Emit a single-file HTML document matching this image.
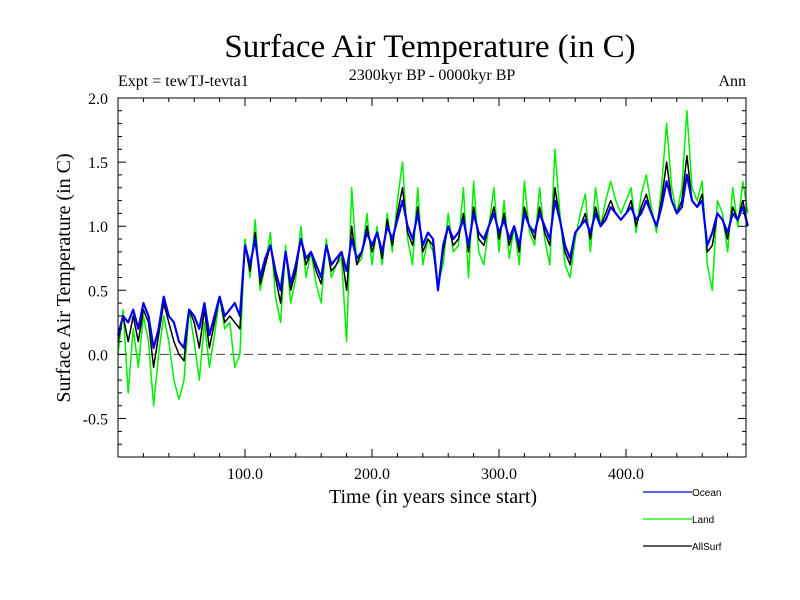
<!DOCTYPE html>
<html><head><meta charset="utf-8"><style>
body{margin:0;background:#fff}
svg{display:block}
text{font-family:"Liberation Serif",serif;fill:#000}
.leg{font-family:"Liberation Sans",sans-serif;font-size:10px}
</style></head><body>
<svg id="c" width="800" height="600">
<text x="430" y="57" font-size="33" text-anchor="middle">Surface Air Temperature (in C)</text>
<text x="432" y="80" font-size="16" text-anchor="middle">2300kyr BP - 0000kyr BP</text>
<text x="118" y="86" font-size="16">Expt = tewTJ-tevta1</text>
<text x="746" y="86" font-size="16" text-anchor="end">Ann</text>
<text x="433" y="503" font-size="20" text-anchor="middle">Time (in years since start)</text>
<text transform="translate(70,278) rotate(-90)" font-size="20" text-anchor="middle">Surface Air Temperature (in C)</text>
<g id="plot"></g>
<g id="legend"></g>
</svg>
<script>
const years=[];for(let i=0;i<125;i++)years.push(i*4);
const ocean=[0.15,0.3,0.25,0.35,0.2,0.4,0.3,0.05,0.2,0.45,0.3,0.25,0.1,0.05,0.35,0.3,0.2,0.4,0.15,0.3,0.45,0.3,0.35,0.4,0.3,
0.85,0.7,0.9,0.6,0.75,0.85,0.65,0.5,0.8,0.55,0.7,0.9,0.75,0.8,0.7,0.6,0.85,0.7,0.75,0.8,0.65,0.9,0.75,0.8,0.95,
0.85,0.95,0.8,1.0,0.9,1.05,1.2,1.0,0.9,1.1,0.85,0.95,0.9,0.5,0.85,1.0,0.9,0.95,1.05,0.85,1.1,0.95,0.9,1.0,1.1,
0.95,1.05,0.9,1.0,0.85,1.1,1.0,0.95,1.1,1.0,0.9,1.2,1.05,0.85,0.75,0.95,1.0,1.05,0.95,1.1,1.0,1.05,1.15,1.1,1.05,
1.1,1.15,1.05,1.1,1.2,1.1,1.0,1.15,1.35,1.2,1.1,1.15,1.4,1.2,1.15,1.2,0.85,0.95,1.1,1.05,0.95,1.1,1.05,1.15,1.0];
const land=[0.0,0.35,-0.3,0.2,-0.1,0.3,0.1,-0.4,0.0,0.3,0.1,-0.2,-0.35,-0.2,0.35,0.1,-0.2,0.25,-0.1,0.15,0.45,0.2,0.25,-0.1,0.0,
0.9,0.6,1.05,0.5,0.7,0.95,0.45,0.25,0.85,0.4,0.6,1.0,0.6,0.8,0.55,0.4,0.9,0.6,0.7,0.75,0.1,1.3,0.7,0.75,1.1,
0.7,1.0,0.7,1.1,0.8,1.2,1.5,0.9,0.7,1.3,0.7,0.9,0.8,0.55,0.7,1.1,0.8,0.85,1.3,0.6,1.35,0.8,0.7,1.0,1.3,
0.8,1.2,0.75,1.0,0.7,1.35,0.95,0.85,1.3,0.9,0.7,1.6,1.1,0.7,0.6,0.9,1.1,1.25,0.8,1.3,1.0,1.2,1.35,1.2,1.1,
1.2,1.3,0.95,1.25,1.4,1.15,0.95,1.3,1.8,1.3,1.1,1.3,1.9,1.3,1.2,1.35,0.7,0.5,1.2,1.1,0.8,1.3,1.0,1.35,1.1];
const allsurf=[0.1,0.3,0.1,0.3,0.1,0.35,0.25,-0.1,0.15,0.4,0.25,0.1,0.0,-0.05,0.35,0.25,0.05,0.35,0.05,0.25,0.45,0.25,0.3,0.25,0.2,
0.85,0.65,0.95,0.55,0.7,0.85,0.6,0.4,0.8,0.5,0.65,0.9,0.7,0.8,0.65,0.55,0.85,0.65,0.7,0.8,0.5,1.0,0.7,0.8,1.0,
0.8,0.95,0.75,1.05,0.85,1.1,1.3,0.95,0.85,1.15,0.8,0.9,0.85,0.5,0.8,1.0,0.85,0.9,1.1,0.8,1.15,0.9,0.85,1.0,1.15,
0.9,1.1,0.85,1.0,0.8,1.15,1.0,0.9,1.15,0.95,0.85,1.3,1.05,0.8,0.7,0.95,1.0,1.1,0.9,1.15,1.0,1.1,1.2,1.1,1.05,
1.1,1.2,1.0,1.15,1.25,1.1,1.0,1.2,1.5,1.2,1.1,1.2,1.55,1.2,1.15,1.25,0.8,0.85,1.1,1.05,0.9,1.15,1.05,1.2,1.0];
const yTicks=[-0.5,0.0,0.5,1.0,1.5,2.0];
const xTicks=[100,200,300,400];
const L=118,R=746,T=98,B=457,xmin=0,xmax=494.5,ymin=-0.8,ymax=2.0;
const X=v=>L+(v-xmin)/(xmax-xmin)*(R-L);
const Y=v=>B-(v-ymin)/(ymax-ymin)*(B-T);
const NS='http://www.w3.org/2000/svg';
const plot=document.getElementById('plot');
function mk(tag,attrs,parent){const e=document.createElementNS(NS,tag);for(const k in attrs)e.setAttribute(k,attrs[k]);parent.appendChild(e);return e;}
let e;
e=mk('line',{x1:L,x2:R,y1:Y(0),y2:Y(0),stroke:'#444','stroke-width':1,'stroke-dasharray':'9,5'},plot);


function series(vals,col,w,name){
 const d=vals.map((v,i)=>(i?'L':'M')+X(years[i]).toFixed(1)+' '+Y(v).toFixed(1)).join(' ');
 const p=mk('path',{d:d,fill:'none',stroke:col,'stroke-width':w,'stroke-linejoin':'round'},plot);
 
 
}
series(land,'#00ee00',1.5,'land-line');
series(allsurf,'#000',1.5,'allsurf-line');
series(ocean,'#0000ee',2.2,'ocean-line');
e=mk('rect',{x:L,y:T,width:R-L,height:B-T,fill:'none',stroke:'#000','stroke-width':1},plot);


let tk='';
for(let v=-0.7;v<=2.0001;v+=0.1){const y=Y(v).toFixed(1);const major=Math.abs(v*2-Math.round(v*2))<0.01;const l=major?8:4;tk+=`M${L} ${y}h${l}M${R} ${y}h-${l}`;}
for(let v=20;v<xmax;v+=20){const x=X(v).toFixed(1);const l=(v%100==0)?8:4;tk+=`M${x} ${B}v-${l}M${x} ${T}v${l}`;}
e=mk('path',{d:tk,stroke:'#000','stroke-width':1,fill:'none'},plot);


yTicks.forEach(v=>{const t=mk('text',{x:108,y:Y(v)+6,'font-size':16,'text-anchor':'end'},plot);t.textContent=v.toFixed(1);

});
xTicks.forEach(v=>{const t=mk('text',{x:X(v),y:479,'font-size':16,'text-anchor':'middle'},plot);t.textContent=v.toFixed(1);

});
const lg=document.getElementById('legend');
[['Ocean','#0000ee',492],['Land','#00ee00',519],['AllSurf','#000',546]].forEach(([n,c,y])=>{
 const g=mk('g',{},lg);
 
 
 mk('line',{x1:643,x2:692,y1:y,y2:y,stroke:c,'stroke-width':1.2},g);
 const t=mk('text',{x:692,y:y+4,class:'leg'},g);t.textContent=n;
});
</script>
</body></html>
